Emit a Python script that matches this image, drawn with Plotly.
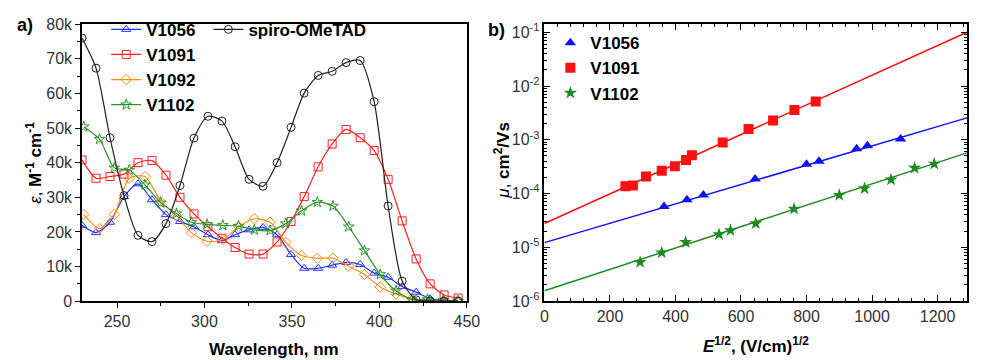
import plotly.graph_objects as go

W, H = 981, 360

# ---------------- panel a) : absorption spectra ----------------
wl_a = [230, 238, 246, 254, 262, 270, 278, 286, 294, 302, 310, 317.5, 325.5, 333.5,
        341.5, 349.5, 357, 365, 373, 381, 389, 397, 405, 413, 421, 429, 437, 445]
wl_b = [231, 240, 248.5, 257, 266, 275, 284, 292.5, 301.5, 310.5, 319.5, 328.5, 337.5,
        346.5, 355.5, 364.5, 373.5, 382.5, 391.5, 400.5, 409.5, 418.5, 427.5, 436.5, 445]

# epsilon values in thousands (k) of M^-1 cm^-1
eps_spiro = [76.0, 67.3, 47.2, 30.5, 19.0, 17.2, 22.4, 33.4, 47.1, 53.4, 52.0, 44.6, 35.2, 33.2,
             40.0, 50.2, 60.1, 65.2, 66.4, 68.9, 69.5, 57.6, 27.5, 5.8, 0.4, 0.1, 0.0, 0.0]
eps_v1091 = [40.8, 35.5, 36.0, 36.7, 40.0, 40.6, 36.4, 30.0, 25.2, 21.5, 18.2, 15.5, 13.6, 13.6,
             17.1, 23.0, 30.2, 38.8, 45.4, 49.6, 47.2, 43.5, 35.2, 23.2, 12.2, 5.0, 1.8, 0.9]
eps_v1056 = [21.9, 19.8, 22.8, 30.2, 33.9, 29.3, 25.0, 23.0, 21.5, 19.2, 17.5, 19.2, 20.6, 21.3,
             19.2, 13.5, 9.5, 9.5, 10.4, 11.2, 10.6, 8.1, 6.9, 4.2, 2.6, 0.7, 0.3, 0.2]
eps_v1092 = [25.0, 21.0, 25.1, 35.5, 36.0, 28.8, 24.7, 19.8, 17.3, 17.8, 21.5, 23.8, 22.8,
             17.0, 13.2, 12.4, 12.4, 10.1, 7.7, 4.1, 2.1, 0.7, 0.2, 0.1, 0.1]
eps_v1102 = [50.4, 46.8, 38.5, 37.9, 33.6, 28.4, 25.3, 22.8, 22.2, 21.9, 21.7, 20.6, 20.4,
             22.4, 26.1, 28.6, 27.5, 21.5, 14.6, 7.7, 3.0, 0.5, 0.5, 0.2, 0.1]

eps_ticks = [0, 10, 20, 30, 40, 50, 60, 70, 80]
eps_ticktext = ["0", "10k", "20k", "30k", "40k", "50k", "60k", "70k", "80k"]
wl_ticks = [250, 300, 350, 400, 450]

# ---------------- panel b) : mobility vs sqrt(E) ----------------
E_v1056 = [365, 435, 485, 643, 800, 838, 953, 986, 1087]
mu_v1056 = [5.7e-5, 7.67e-5, 9.4e-5, 1.86e-4, 3.51e-4, 3.96e-4, 6.8e-4, 7.77e-4, 1.03e-3]
E_v1091 = [247, 270, 310, 358, 398, 432, 450, 544, 623, 698, 763, 828]
mu_v1091 = [1.37e-4, 1.41e-4, 2.07e-4, 2.64e-4, 3.23e-4, 4.2e-4, 5.15e-4, 8.9e-4,
            1.58e-3, 2.29e-3, 3.58e-3, 5.16e-3]
E_v1102 = [292, 358, 431, 533, 568, 645, 762, 900, 977, 1058, 1130, 1190]
mu_v1102 = [5.27e-6, 7.92e-6, 1.24e-5, 1.73e-5, 2.06e-5, 2.77e-5, 5.16e-5, 9.3e-5,
            1.24e-4, 1.81e-4, 2.98e-4, 3.57e-4]

fit_E = [0, 1290]
fit_v1056 = [1.22e-5, 2.55e-3]
fit_v1091 = [2.77e-5, 0.1]
fit_v1102 = [1.55e-6, 5.7e-4]

mu_ticks = [1e-6, 1e-5, 1e-4, 1e-3, 1e-2, 1e-1]
mu_ticktext = ["10<sup>-6</sup>", "10<sup>-5</sup>", "10<sup>-4</sup>",
               "10<sup>-3</sup>", "10<sup>-2</sup>", "10<sup>-1</sup>"]
E_ticks = [0, 200, 400, 600, 800, 1000, 1200]

BLUE = "#2233ff"
RED = "#ff2020"
ORANGE = "#ff8c1a"
GREEN = "#2a952a"
BLACK = "#222222"
FONT = "Liberation Sans, Arial, sans-serif"

fig = go.Figure()

def spec(x, y, name, color, symbol, legend):
    fig.add_trace(go.Scatter(
        x=x, y=y, name=name, mode="lines+markers",
        line=dict(color=color, width=1.2, shape="spline", smoothing=0.7),
        marker=dict(symbol=symbol, size=8, color=color, line=dict(color=color, width=1)),
        xaxis="x", yaxis="y", legend=legend, cliponaxis=True))

spec(wl_a, eps_v1056, "V1056", BLUE, "triangle-up-open", "legend")
spec(wl_a, eps_v1091, "V1091", RED, "square-open", "legend")
spec(wl_b, eps_v1092, "V1092", ORANGE, "diamond-open", "legend")
spec(wl_b, eps_v1102, "V1102", GREEN, "star-open", "legend")
spec(wl_a, eps_spiro, "spiro-OMeTAD", BLACK, "circle-open", "legend2")

def mob(x, y, fx, fy, name, color, symbol):
    fig.add_trace(go.Scatter(x=fx, y=fy, mode="lines", line=dict(color=color, width=1.5),
                             showlegend=False, xaxis="x2", yaxis="y2", hoverinfo="skip"))
    fig.add_trace(go.Scatter(x=x, y=y, name=name, mode="markers",
                             marker=dict(symbol=symbol, size=10, color=color),
                             xaxis="x2", yaxis="y2", legend="legend3"))

mob(E_v1056, mu_v1056, fit_E, fit_v1056, "V1056", "#1010ff", "triangle-up")
mob(E_v1091, mu_v1091, fit_E, fit_v1091, "V1091", "#ff1010", "square")
mob(E_v1102, mu_v1102, fit_E, fit_v1102, "V1102", "#1f8a1f", "star")

minor_log = [m * 10.0 ** e for e in range(-6, 0) for m in range(2, 10)]

axis_common = dict(showgrid=False, zeroline=False, showline=True, linecolor="black",
                   linewidth=1.5, tickcolor="black",
                   tickfont=dict(family=FONT, size=16, color="#333333"))

fig.update_layout(
    width=W, height=H, margin=dict(l=0, r=0, t=0, b=0),
    paper_bgcolor="white", plot_bgcolor="white",
    font=dict(family=FONT, color="black"),
    xaxis=dict(domain=[79.4 / W, 471 / W], range=[230, 450], anchor="y",
               tickmode="array", tickvals=wl_ticks, ticks="outside", ticklen=5, tickwidth=1.2,
               minor=dict(dtick=25, tick0=225, ticks="outside", ticklen=3, tickcolor="black"),
               mirror=True, **axis_common),
    yaxis=dict(domain=[52.3 / H, 343 / H], range=[0, 80], anchor="x",
               tickmode="array", tickvals=eps_ticks, ticktext=eps_ticktext,
               ticks="outside", ticklen=5, tickwidth=1.2,
               minor=dict(dtick=5, tick0=0, ticks="outside", ticklen=3, tickcolor="black"),
               mirror=True, **axis_common),
    xaxis2=dict(domain=[550 / W, 980 / W], range=[0, 1290], anchor="y2",
                tickmode="array", tickvals=E_ticks, ticks="inside", ticklen=6, tickwidth=1.2,
                minor=dict(dtick=40, tick0=0, ticks="inside", ticklen=3, tickcolor="black"),
                mirror="ticks", **axis_common),
    yaxis2=dict(domain=[52.5 / H, 343 / H], type="log", range=[-6, -0.85], anchor="x2",
                tickmode="array", tickvals=mu_ticks, ticktext=mu_ticktext,
                ticks="inside", ticklen=6, tickwidth=1.2,
                minor=dict(tickmode="array", tickvals=minor_log, ticks="inside", ticklen=3,
                           tickcolor="black"),
                mirror="ticks", **axis_common),
    legend=dict(x=104 / W, y=1 - 4 / H, xanchor="left", yanchor="top",
                bgcolor="rgba(0,0,0,0)", font=dict(family=FONT, size=17, color="black", weight="bold"),
                tracegroupgap=0, itemwidth=30),
    legend2=dict(x=208 / W, y=1 - 4 / H, xanchor="left", yanchor="top",
                 bgcolor="rgba(0,0,0,0)", font=dict(family=FONT, size=17, color="black", weight="bold"),
                 itemwidth=30),
    legend3=dict(x=556 / W, y=1 - 18 / H, xanchor="left", yanchor="top",
                 bgcolor="rgba(0,0,0,0)", font=dict(family=FONT, size=17, color="black", weight="bold"),
                 itemwidth=30),
)

def note(text, x, y, size=17, angle=0, bold=True):
    fig.add_annotation(text=text, x=x / W, y=1 - y / H, xref="paper", yref="paper",
                       showarrow=False, textangle=angle, xanchor="center", yanchor="middle",
                       font=dict(family=FONT, size=size, color="black",
                                 weight="bold" if bold else "normal"))

note("a)", 21, 18, size=18)
note("b)", 501, 23, size=18)
note("Wavelength, nm", 275, 358)
note("<i>E</i><sup>1/2</sup>, (V/cm)<sup>1/2</sup>", 765, 354)
note("<span style='font-weight:normal'><i>ε</i>, </span>M<sup>-1</sup> cm<sup>-1</sup>", 31, 162, angle=-90)
note("<span style='font-weight:normal'><i>μ</i>, </span>cm<sup>2</sup>/Vs", 507, 160, angle=-90)

fig.write_html("out.html")
